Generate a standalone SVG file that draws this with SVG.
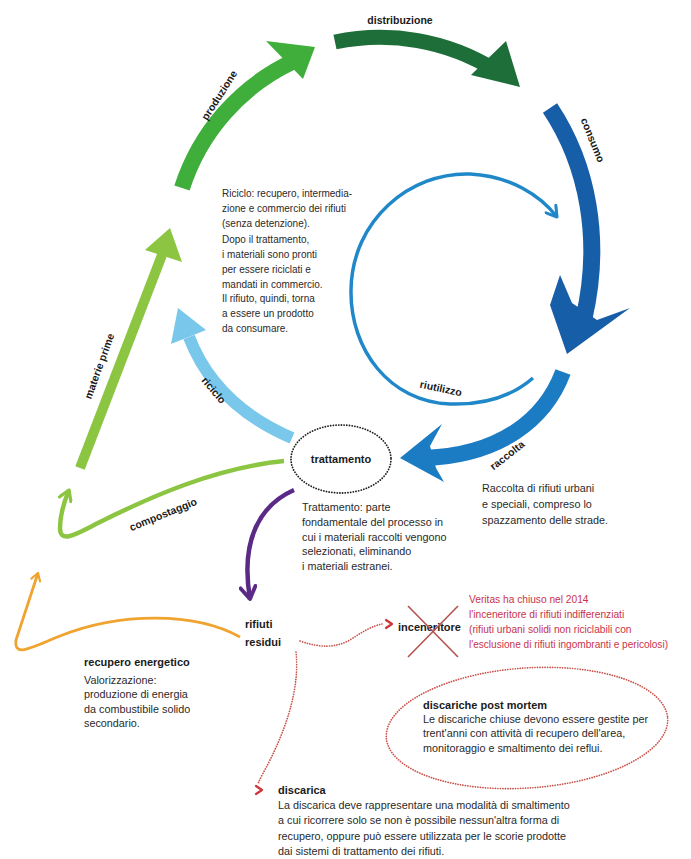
<svg xmlns="http://www.w3.org/2000/svg" width="691" height="859" viewBox="0 0 691 859">
<style>
.t{font-family:"Liberation Sans",Arial,sans-serif;font-size:10px;fill:#2a2a2a}
.t2{font-family:"Liberation Sans",Arial,sans-serif;font-size:10.8px;fill:#2a2a2a}
.b{font-family:"Liberation Sans",Arial,sans-serif;font-size:11px;font-weight:bold;fill:#1a1a1a}
.lb{font-family:"Liberation Sans",Arial,sans-serif;font-size:10.5px;font-weight:bold;fill:#1a1a1a;text-anchor:middle}
.red{font-family:"Liberation Sans",Arial,sans-serif;font-size:10.2px;fill:#c8334a}
.shaft{fill:none;stroke-linecap:butt}
.dotk{fill:none;stroke:#222;stroke-width:1.8;stroke-dasharray:0.1 2.6;stroke-linecap:round}
.dotr{fill:none;stroke:#c9524a;stroke-width:1.7;stroke-dasharray:0.1 2.4;stroke-linecap:round}
.chev{fill:none;stroke:#d0343a;stroke-width:2.2;stroke-linecap:round;stroke-linejoin:round}
</style>
<defs>
<marker id="mBlue" viewBox="0 0 12 12" refX="10" refY="6" markerWidth="15" markerHeight="15" markerUnits="userSpaceOnUse" orient="auto"><path d="M2,1 L10,6 L2,11" fill="none" stroke="#2088c9" stroke-width="2.4" stroke-linecap="round" stroke-linejoin="round"/></marker>
<marker id="mGreen" viewBox="0 0 12 12" refX="10" refY="6" markerWidth="15" markerHeight="15" markerUnits="userSpaceOnUse" orient="auto"><path d="M2,1 L10,6 L2,11" fill="none" stroke="#8cc541" stroke-width="2.6" stroke-linecap="round" stroke-linejoin="round"/></marker>
<marker id="mPurple" viewBox="0 0 12 12" refX="10" refY="6" markerWidth="18" markerHeight="18" markerUnits="userSpaceOnUse" orient="auto"><path d="M2,1 L10,6 L2,11" fill="none" stroke="#5a2a86" stroke-width="2.6" stroke-linecap="round" stroke-linejoin="round"/></marker>
<marker id="mOrange" viewBox="0 0 12 12" refX="10" refY="6" markerWidth="11" markerHeight="11" markerUnits="userSpaceOnUse" orient="auto"><path d="M2,1 L10,6 L2,11" fill="none" stroke="#f0a32e" stroke-width="2.4" stroke-linecap="round" stroke-linejoin="round"/></marker>
</defs>
<rect width="691" height="859" fill="#ffffff"/>

<g id="connectors">
  <!-- produzione -->
  <path class="shaft" d="M182,188 A211,211 0 0 1 292,62" stroke="#3fae3b" stroke-width="16"/>
  <polygon points="266,41 315,47 303,79" fill="#3fae3b"/>
  <!-- distribuzione -->
  <path class="shaft" d="M335,42 A218,218 0 0 1 495,70" stroke="#1d6e38" stroke-width="15"/>
  <polygon points="506,41 520,87 471,75" fill="#1d6e38"/>
  <!-- consumo -->
  <path class="shaft" d="M550,108 C588,165 602,240 584,318" stroke="#175ea8" stroke-width="17"/>
  <polygon points="560,275 572,303 597,320 630,308 567,354 550,305" fill="#175ea8"/>
  <!-- raccolta -->
  <path class="shaft" d="M563,372 C545,420 500,455 425,458" stroke="#1b7cc3" stroke-width="16"/>
  <polygon points="400,458 442,424 430,446 436,468 444,482" fill="#1b7cc3"/>
  <!-- riutilizzo -->
  <path d="M533,378 C510,398 480,405 450,404 C390,402 350,350 351,290 C352,220 410,172 470,174 C510,176 540,195 557,217" fill="none" stroke="#2088c9" stroke-width="3.5" marker-end="url(#mBlue)"/>
  <!-- riciclo -->
  <path class="shaft" d="M292,438 Q215,405 189,337" stroke="#7ac7ec" stroke-width="12"/>
  <polygon points="178,308 206,330 171,344" fill="#7ac7ec"/>
  <!-- materie prime -->
  <path class="shaft" d="M80,468 L162,255" stroke="#8cc541" stroke-width="10"/>
  <polygon points="170,228 182,262 145,250" fill="#8cc541"/>
  <!-- compostaggio -->
  <path d="M284,461 C215,468 150,497 100,522 C78,533 60,545 60,528 C60,515 64,502 69,490" fill="none" stroke="#8cc541" stroke-width="4.5" marker-end="url(#mGreen)"/>
  <!-- residui -->
  <path d="M294,490 C260,505 240,540 250,599" fill="none" stroke="#5a2a86" stroke-width="4.5" marker-end="url(#mPurple)"/>
  <!-- recupero energetico -->
  <path d="M240,637 C195,612 120,612 60,636 C30,648 14,658 16,640 L38,573" fill="none" stroke="#f0a32e" stroke-width="2.8" marker-end="url(#mOrange)"/>
  <!-- dotted to inceneritore -->
  <path class="dotr" d="M300,641 C320,648 335,648 350,640 C362,632 372,626 382,624"/>
  <path class="chev" d="M386,620 L392,624 L386,628"/>
  <!-- dotted to discarica -->
  <path class="dotr" d="M296,652 C300,690 285,730 270,760 C264,772 260,778 258,784"/>
  <path class="chev" d="M256,786 L262,790 L256,794"/>
</g>

<g id="labels">
  <text class="lb" x="400" y="24">distribuzione</text>
  <text class="lb" transform="translate(219,95) rotate(-57)" y="4">produzione</text>
  <text class="lb" transform="translate(593,140) rotate(68)" y="4">consumo</text>
  <text class="lb" transform="translate(99,366) rotate(-70)" y="4">materie prime</text>
  <text class="lb" transform="translate(214,390) rotate(50)" y="4">riciclo</text>
  <text class="lb" transform="translate(441,388) rotate(12)" y="4">riutilizzo</text>
  <text class="lb" transform="translate(507,455) rotate(-38)" y="4">raccolta</text>
  <text class="lb" transform="translate(163,514) rotate(-22)" y="4">compostaggio</text>
</g>

<g id="riciclo-note">
  <text class="t" x="222" y="197">Riciclo: recupero, intermedia-</text>
  <text class="t" x="222" y="212">zione e commercio dei rifiuti</text>
  <text class="t" x="222" y="227">(senza detenzione).</text>
  <text class="t" x="222" y="243">Dopo il trattamento,</text>
  <text class="t" x="222" y="258">i materiali sono pronti</text>
  <text class="t" x="222" y="273">per essere riciclati e</text>
  <text class="t" x="222" y="288">mandati in commercio.</text>
  <text class="t" x="222" y="302">Il rifiuto, quindi, torna</text>
  <text class="t" x="222" y="317">a essere un prodotto</text>
  <text class="t" x="222" y="332">da consumare.</text>
</g>

<g id="trattamento">
  <ellipse class="dotk" cx="341" cy="459" rx="50" ry="34"/>
  <text class="b" x="341" y="463" text-anchor="middle">trattamento</text>
  <text class="t2" x="302" y="511">Trattamento: parte</text>
  <text class="t2" x="302" y="526">fondamentale del processo in</text>
  <text class="t2" x="302" y="541">cui i materiali raccolti vengono</text>
  <text class="t2" x="302" y="555">selezionati, eliminando</text>
  <text class="t2" x="302" y="570">i materiali estranei.</text>
</g>

<g id="raccolta-note">
  <text class="t2" x="482" y="492">Raccolta di rifiuti urbani</text>
  <text class="t2" x="482" y="508">e speciali, compreso lo</text>
  <text class="t2" x="482" y="524">spazzamento delle strade.</text>
</g>

<g id="rifiuti-residui">
  <text class="b" x="245" y="628">rifiuti</text>
  <text class="b" x="245" y="646">residui</text>
</g>

<g id="recupero-energetico">
  <text class="b" x="84" y="666">recupero energetico</text>
  <text class="t2" x="84" y="684">Valorizzazione:</text>
  <text class="t2" x="84" y="698">produzione di energia</text>
  <text class="t2" x="84" y="713">da combustibile solido</text>
  <text class="t2" x="84" y="727">secondario.</text>
</g>

<g id="inceneritore">
  <text class="b" x="398" y="631">inceneritore</text>
  <path d="M408,606 L458,657 M458,606 L408,657" stroke="#b5544f" stroke-width="1.6" fill="none"/>
  <text class="red" x="469" y="603">Veritas ha chiuso nel 2014</text>
  <text class="red" x="469" y="618">l'inceneritore di rifiuti indifferenziati</text>
  <text class="red" x="469" y="633">(rifiuti urbani solidi non riciclabili con</text>
  <text class="red" x="469" y="648" textLength="199" lengthAdjust="spacingAndGlyphs">l'esclusione di rifiuti ingombranti e pericolosi)</text>
</g>

<g id="discariche-post-mortem">
  <ellipse class="dotr" cx="527" cy="728" rx="141" ry="60" transform="rotate(-4 527 728)"/>
  <text class="b" x="423" y="709">discariche post mortem</text>
  <text class="t2" x="423" y="723">Le discariche chiuse devono essere gestite per</text>
  <text class="t2" x="423" y="737">trent'anni con attività di recupero dell'area,</text>
  <text class="t2" x="423" y="752">monitoraggio e smaltimento dei reflui.</text>
</g>

<g id="discarica">
  <text class="b" x="278" y="794">discarica</text>
  <text class="t2" x="278" y="809">La discarica deve rappresentare una modalità di smaltimento</text>
  <text class="t2" x="278" y="824">a cui ricorrere solo se non è possibile nessun'altra forma di</text>
  <text class="t2" x="278" y="840">recupero, oppure può essere utilizzata per le scorie prodotte</text>
  <text class="t2" x="278" y="855">dai sistemi di trattamento dei rifiuti.</text>
</g>
</svg>
